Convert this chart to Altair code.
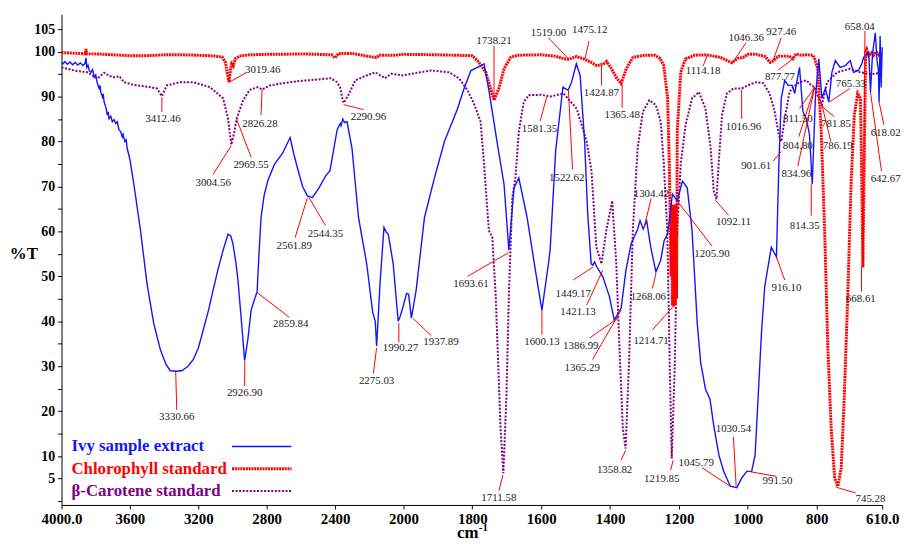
import altair as alt
import pandas as pd

# ---------------- data ----------------
ivy_wn = [4000, 3990, 3980, 3965, 3950, 3935, 3920, 3905, 3890, 3875, 3862, 3857, 3852, 3845, 3838,
          3828, 3818, 3809, 3800, 3790, 3780, 3775, 3770, 3761, 3756, 3751, 3740, 3732, 3727, 3722, 3712,
          3703, 3693, 3683, 3674, 3664, 3654, 3645, 3640, 3630, 3622, 3616,
          3600, 3577, 3538, 3500, 3461, 3422, 3390, 3364, 3330, 3297, 3260, 3229, 3200, 3171,
          3140, 3113, 3085, 3055, 3026, 3010, 2997, 2980, 2968, 2950, 2929, 2910, 2891, 2870, 2856, 2845,
          2833, 2815, 2794, 2755, 2707, 2663, 2640, 2620, 2590, 2562, 2533, 2494, 2456, 2430, 2417, 2388,
          2370, 2365, 2355, 2345, 2330, 2301, 2263, 2215, 2180, 2165, 2157, 2137, 2114, 2100, 2089, 2060,
          2031, 2020, 2002, 1991, 1985, 1977, 1963, 1939, 1910, 1881, 1843, 1824, 1804, 1785, 1766, 1751,
          1727, 1708, 1694, 1679, 1665, 1641, 1617, 1598, 1579, 1574, 1558, 1537, 1522, 1512, 1498, 1487,
          1474, 1465, 1455, 1450, 1445, 1440, 1421, 1402, 1388, 1368, 1354, 1339, 1320, 1313, 1304, 1294,
          1282, 1267, 1253, 1243, 1233, 1219, 1205, 1190, 1176, 1162, 1147, 1137, 1123, 1110, 1099, 1084,
          1070, 1051, 1032, 1018, 1003, 989, 979, 970, 960, 951, 932, 917, 910, 903, 893, 883, 871, 864,
          850, 840, 830, 821, 813, 804, 794, 785, 775, 765, 756, 746, 732, 717, 703, 693, 679, 669, 664,
          649, 644, 638, 630, 625, 621, 619, 616, 613, 610]
ivy_t = [97.6, 97.3, 97.8, 97.2, 97.7, 97.1, 97.6, 97.0, 97.5, 96.9, 97.4, 98.6, 96.5, 97.0, 95.8,
         95.4, 96.0, 94.3, 94.8, 92.9, 91.8, 92.5, 91.0, 89.9, 90.6, 88.8, 87.5, 85.9, 86.6, 85.1, 85.6,
         84.4, 84.9, 84.0, 84.4, 82.6, 82.2, 81.0, 81.6, 80.0, 80.4, 78.5,
         76.0, 70.5, 60.2, 48.4, 39.6, 33.7, 30.5, 29.0, 28.9, 29.0, 30.0, 31.5, 34.0, 38.1,
         42.5, 47.0, 51.5, 55.8, 59.4, 59.0, 57.2, 53.0, 49.2, 41.0, 31.3, 36.0, 42.5, 45.0, 46.6, 55.0,
         63.1, 68.0, 71.2, 74.9, 77.4, 80.9, 77.0, 74.1, 70.0, 67.9, 67.5, 69.7, 72.3, 73.5, 76.3, 82.6,
         84.0, 83.5, 85.0, 84.2, 84.4, 78.5, 63.1, 52.8, 42.0, 40.0, 34.5, 48.4, 60.9, 59.8, 59.4, 52.8,
         40.0, 41.0, 43.3, 46.2, 46.0, 40.7, 47.0, 63.1, 71.9, 80.0, 87.3, 91.8, 95.8, 96.5, 97.3, 91.0,
         79.3, 70.5, 55.8, 69.7, 71.9, 63.1, 51.4, 42.5, 52.8, 56.0, 78.0, 92.1, 91.4, 93.2, 97.3, 94.7,
         80.0, 63.9, 52.8, 52.5, 53.2, 52.3, 49.9, 45.5, 40.3, 42.9, 51.4, 57.2, 60.5, 62.4, 60.5, 62.4,
         56.5, 51.0, 53.6, 58.0, 59.4, 68.3, 66.8, 71.2, 69.7, 60.2, 39.6, 30.8, 24.9, 22.7, 16.8, 10.2,
         6.6, 3.3, 3.0, 5.1, 6.6, 6.6, 10.2, 23.4, 38.1, 47.7, 56.5, 54.3, 74.9, 89.6, 93.6, 92.5, 92.5, 90.7,
         96.5, 86.6, 85.1, 81.5, 70.5, 89.6, 98.4, 89.6, 91.8, 88.8, 95.4, 98.0, 96.5, 96.9, 98.0, 95.4, 95.8, 97.3, 98.7,
         99.8, 91.0, 99.5, 104.2, 98.0, 96.0, 88.8, 103.5, 92.0, 101.0]

chl_wn = [4000, 3900, 3860, 3857, 3854, 3800, 3700, 3600, 3500, 3400, 3300, 3200, 3100, 3060, 3040, 3030,
          3020, 3012, 3005, 2995, 2985, 2960, 2900, 2800, 2700, 2600, 2500, 2420, 2400, 2380, 2300, 2200,
          2160, 2140, 2050, 2000, 1900, 1800, 1785, 1761, 1747, 1737, 1723, 1708, 1689, 1670, 1600, 1560,
          1533, 1520, 1498, 1477, 1460, 1439, 1420, 1410, 1396, 1380, 1368, 1353, 1334, 1300, 1270, 1255,
          1244, 1233, 1228, 1223, 1221, 1219, 1217, 1215, 1213, 1211, 1209, 1207, 1205, 1195, 1181, 1155,
          1120, 1079, 1060, 1046, 1030, 1014, 1000, 975, 950, 935, 927, 911, 880, 869, 860, 845, 830, 811,
          806, 797, 787, 777, 768, 758, 748, 739, 729, 720, 710, 700, 691, 681, 673, 670, 666, 663, 658,
          655, 649, 640, 635, 628, 620, 615, 610]
chl_t = [99.8, 99.6, 99.5, 100.6, 99.5, 99.5, 99.3, 99.1, 99.1, 99.3, 99.3, 99.2, 99.0, 98.8, 97.5, 95.0,
         93.2, 96.0, 97.3, 96.8, 98.4, 99.0, 99.3, 99.4, 99.4, 99.5, 99.4, 99.3, 98.6, 99.6, 99.6, 98.9,
         98.7, 99.2, 99.2, 99.4, 99.3, 99.1, 98.0, 95.4, 91.8, 89.2, 91.8, 96.2, 98.7, 99.2, 99.3, 99.0,
         98.4, 98.3, 98.9, 98.4, 97.8, 96.9, 97.2, 97.8, 96.2, 94.0, 92.9, 96.2, 98.7, 99.2, 99.2, 98.5,
         96.9, 89.6, 74.9, 50.0, 66.0, 43.5, 66.0, 43.3, 66.0, 44.0, 66.0, 45.0, 82.2, 95.4, 98.4, 99.2,
         99.3, 98.7, 98.0, 97.5, 98.5, 98.7, 99.4, 99.4, 98.9, 97.6, 97.9, 99.0, 99.0, 98.4, 99.5, 99.2, 99.3, 99.2,
         98.4, 96.2, 82.2, 60.2, 34.5, 16.1, 5.1, 3.3, 7.3, 23.4, 45.5, 71.2, 85.9, 90.7, 89.6, 75.0, 52.0, 70.0, 100.0,
         100.5, 99.1, 99.8, 99.2, 100.0, 99.3, 99.8, 99.5]

car_wn = [4000, 3925, 3848, 3790, 3751, 3720, 3693, 3660, 3635, 3577, 3480, 3442, 3413, 3384, 3306, 3229,
          3132, 3055, 3026, 3007, 2990, 2976, 2940, 2900, 2852, 2827, 2780, 2717, 2600, 2500, 2427, 2388,
          2370, 2360, 2350, 2340, 2321, 2282, 2230, 2166, 2108, 2070, 2006, 1960, 1919, 1867, 1838, 1814,
          1795, 1776, 1766, 1752, 1742, 1732, 1718, 1710, 1701, 1694, 1684, 1675, 1665, 1651, 1636, 1600,
          1574, 1535, 1497, 1468, 1454, 1440, 1425, 1411, 1394, 1382, 1373, 1363, 1355, 1345, 1334, 1320,
          1305, 1286, 1267, 1253, 1244, 1234, 1227, 1221, 1212, 1205, 1195, 1181, 1162, 1142, 1123, 1108,
          1099, 1091, 1085, 1075, 1061, 1042, 1018, 1000, 976, 955, 937, 922, 910, 903, 893, 879, 869, 850,
          830, 816, 806, 794, 785, 770, 741, 703, 674, 640, 610]
car_t = [96.5, 95.8, 95.4, 94.0, 95.3, 94.6, 94.3, 94.5, 93.2, 92.6, 92.1, 91.8, 90.1, 92.5, 93.2, 93.2,
         92.1, 89.6, 85.1, 79.3, 82.0, 85.0, 89.0, 91.5, 92.1, 91.6, 92.5, 92.9, 93.5, 93.8, 94.1, 93.2,
         92.0, 90.0, 88.6, 89.2, 90.4, 93.6, 94.5, 95.4, 94.1, 95.1, 94.7, 95.3, 95.8, 95.4, 94.0, 91.4,
         88.4, 84.4, 74.9, 60.2, 58.7, 45.5, 16.1, 6.2, 23.4, 45.5, 67.5, 71.9, 82.2, 88.8, 90.3, 90.4,
         90.0, 90.7, 87.3, 80.0, 73.4, 56.5, 52.8, 60.2, 66.8, 52.8, 34.5, 16.1, 11.7, 30.8, 60.2, 78.5,
         86.6, 89.2, 88.1, 84.4, 74.9, 60.2, 30.8, 9.5, 30.8, 60.2, 74.9, 83.7, 89.6, 91.0, 87.3, 78.5,
         69.0, 67.2, 74.9, 85.9, 90.7, 91.8, 91.8, 92.5, 93.2, 93.0, 90.7, 86.6, 81.5, 80.0, 85.1, 91.0, 92.1, 93.2,
         93.6, 92.5, 92.1, 89.6, 88.1, 93.2, 95.4, 96.2, 95.4, 95.0, 95.3]

ann_text = ["3019.46", "3412.46", "3004.56", "2969.55", "2826.28", "2290.96", "2561.89", "2544.35",
            "2859.84", "3330.66", "2926.90", "2275.03", "1990.27", "1937.89", "1738.21", "1519.00",
            "1475.12", "1424.87", "1365.48", "1581.35", "1522.62", "1114.18", "1046.36", "927.46",
            "877.77", "1016.96", "901.61", "1092.11", "1205.90", "1304.42", "811.50", "804.80",
            "834.96", "814.35", "765.33", "781.85", "786.19", "618.02", "642.67", "658.04",
            "1693.61", "1449.17", "1421.13", "1600.13", "1386.99", "1365.29", "1268.06", "1214.71",
            "1358.82", "1219.85", "1711.58", "1045.79", "1030.54", "991.50", "745.28", "668.61", "916.10"]
ann_x = [2823, 3407, 3113, 2891, 2839, 2205, 2639, 2456, 2659, 3326, 2929, 2157, 2017, 1891, 1737, 1579,
         1459, 1425, 1365, 1605, 1526, 1130, 1005, 903, 907, 1013, 976, 1042, 1104, 1280, 855, 855,
         859, 835, 701, 744, 739, 600, 600, 675, 1804, 1507, 1493, 1598, 1485, 1481, 1289, 1281,
         1387, 1250, 1723, 1150, 1042, 914, 644, 672, 888]
ann_y = [95.8, 85.1, 70.8, 74.7, 83.8, 85.4, 56.7, 59.4, 39.4, 18.7, 24.0, 26.7, 34.0, 35.3, 102.4, 104.1,
         104.8, 90.7, 85.9, 82.8, 71.9, 95.6, 103.1, 104.4, 94.3, 83.3, 74.5, 62.2, 54.9, 68.4, 85.1, 79.1,
         72.7, 61.1, 92.9, 84.0, 79.1, 81.8, 71.6, 105.5, 48.4, 46.1, 42.0, 35.4, 34.5, 29.5, 45.3, 35.7,
         6.9, 4.9, 0.7, 8.5, 16.0, 4.4, 0.5, 44.9, 47.3]
lead_x1 = [2920, 3413, 3113, 2891, 2833, 2234, 2634, 2456, 2668, 3326, 2929, 2176, 2027, 1919, 1737, 1579,
           1461, 1425, 1365, 1603, 1509, 1130, 1005, 903, 912, 1018, 927, 1056, 1104, 1281, 850, 852,
           855, 816, 704, 749, 759, 605, 612, 660, 1814, 1507, 1468, 1598, 1459, 1451, 1277, 1277,
           1368, 1224, 1723, 1133, 1042, 917, 687, 670, 893]
lead_y1 = [95.3, 86.6, 72.7, 76.5, 85.9, 87.1, 58.6, 61.3, 40.9, 20.3, 25.6, 28.4, 35.3, 36.8, 101.3, 103.1,
           102.4, 92.5, 87.5, 84.6, 73.8, 96.8, 102.0, 103.1, 95.9, 85.0, 75.6, 63.6, 56.7, 67.3, 87.3, 81.1,
           74.5, 63.5, 91.8, 85.5, 80.0, 83.7, 73.4, 104.6, 50.0, 49.2, 43.6, 37.0, 36.3, 31.5, 47.3, 38.1,
           9.1, 6.9, 2.3, 7.4, 14.3, 5.5, 1.8, 46.6, 49.2]
lead_x2 = [3020, 3413, 3007, 2976, 2827, 2350, 2562, 2552, 2856, 3332, 2928, 2157, 2027, 1972, 1737, 1521,
           1473, 1425, 1365, 1584, 1521, 1118, 1044, 927, 869, 1018, 903, 1094, 1205, 1301, 806, 806,
           806, 816, 763, 783, 787, 619, 644, 665, 1694, 1449, 1421, 1598, 1377, 1368, 1267, 1217,
           1355, 1217, 1711, 1051, 1034, 998, 744, 670, 917]
lead_y2 = [93.2, 89.9, 79.1, 85.0, 91.6, 88.2, 67.5, 67.5, 46.4, 28.7, 31.2, 34.1, 39.6, 40.6, 89.4, 98.4,
           98.4, 96.9, 92.6, 89.9, 91.4, 99.2, 97.6, 98.0, 98.4, 91.6, 77.8, 66.9, 66.8, 60.9, 92.1, 92.1,
           92.1, 70.5, 88.8, 87.7, 88.8, 88.8, 91.0, 52.1, 55.3, 52.1, 51.4, 42.5, 40.7, 42.5, 50.6, 43.3,
           11.3, 9.1, 5.8, 3.3, 3.3, 6.6, 3.1, 52.1, 54.3]

x_ticks = [4000, 3600, 3200, 2800, 2400, 2000, 1800, 1600, 1400, 1200, 1000, 800, 610]
y_ticks = list(range(0, 110, 5))

SERIF = "Liberation Serif"
BLUE = "#1414ff"
RED = "#ff0000"
PURPLE = "#800080"

# ---------------- frames ----------------
ivy = pd.DataFrame({"wn": ivy_wn, "t": ivy_t, "i": range(len(ivy_wn))})
chl = pd.DataFrame({"wn": chl_wn, "t": chl_t, "i": range(len(chl_wn))})
car = pd.DataFrame({"wn": car_wn, "t": car_t, "i": range(len(car_wn))})
ann = pd.DataFrame({"label": ann_text, "x": ann_x, "y": ann_y})
leads = pd.DataFrame({"x1": lead_x1, "y1": lead_y1, "x2": lead_x2, "y2": lead_y2})
one = pd.DataFrame({"k": [0]})

xs = alt.Scale(domain=[4000, 2000, 610], range=[0, 345, 828], nice=False, zero=False)
ys = alt.Scale(domain=[-0.86, 108.3], nice=False, zero=False)

x_axis = alt.Axis(values=x_ticks, title=None, grid=False, tickSize=4, labelPadding=3,
                  labelFont=SERIF, labelFontSize=15, labelFontWeight="bold", labelColor="black",
                  labelExpr="datum.value == 4000 || datum.value == 610 ? format(datum.value, '.1f') : format(datum.value, 'd')",
                  domainColor="black", tickColor="black", labelFlush=False, labelOverlap=False)
y_axis = alt.Axis(values=y_ticks, title=None, grid=False, tickSize=4, labelPadding=3,
                  labelFont=SERIF, labelFontSize=14, labelFontWeight="bold", labelColor="black",
                  labelExpr="(datum.value % 10 == 0 && datum.value > 0) || datum.value == 5 || datum.value == 105 ? format(datum.value, 'd') : ''",
                  domainColor="black", tickColor="black", labelOverlap=False, labelFlush=False)


def X(field):
    return alt.X(field, scale=xs, axis=x_axis)


def Y(field):
    return alt.Y(field, scale=ys, axis=y_axis)


def enc_line(df, **mk):
    return alt.Chart(df).mark_line(**mk).encode(x=X("wn:Q"), y=Y("t:Q"), order="i:Q")


car_line = enc_line(car, color=PURPLE, strokeWidth=2, strokeDash=[2, 1.6])
chl_line = enc_line(chl, color=RED, strokeWidth=3, strokeDash=[2, 0.8])
ivy_line = enc_line(ivy, color=BLUE, strokeWidth=1.4)

leaders = alt.Chart(leads).mark_rule(color=RED, strokeWidth=1).encode(
    x=X("x1:Q"), y=Y("y1:Q"), x2="x2:Q", y2="y2:Q")

labels = alt.Chart(ann).mark_text(font=SERIF, fontSize=11, color="#222222",
                                  align="center", baseline="middle").encode(
    x=X("x:Q"), y=Y("y:Q"), text="label:N")


def legend_entry(text, color, ty, dash, width):
    t = alt.Chart(one).mark_text(text=text, font=SERIF, fontSize=17, fontWeight="bold",
                                 color=color, align="left", baseline="middle").encode(
        x=alt.value(10), y=alt.value(ty))
    kw = dict(color=color, strokeWidth=width)
    if dash:
        kw["strokeDash"] = dash
    r = alt.Chart(one).mark_rule(**kw).encode(
        x=alt.value(172), x2=alt.value(232), y=alt.value(ty))
    return t + r


leg1 = legend_entry("Ivy sample extract", BLUE, 436, None, 1.6)
leg2 = legend_entry("Chlorophyll standard", RED, 458.5, [2, 0.8], 3)
leg3 = legend_entry("β-Carotene standard", PURPLE, 481, [2, 1.6], 2)

ytitle = alt.Chart(one).mark_text(text="%T", font=SERIF, fontSize=17, fontWeight="bold",
                                  color="black", align="center", baseline="middle").encode(
    x=alt.value(-38), y=alt.value(242))
xtitle = alt.Chart(one).mark_text(text="cm", font=SERIF, fontSize=17, fontWeight="bold",
                                  color="black", align="left", baseline="alphabetic").encode(
    x=alt.value(399), y=alt.value(528.5))
xsup = alt.Chart(one).mark_text(text="-1", font=SERIF, fontSize=11, fontWeight="bold",
                                color="black", align="left", baseline="alphabetic").encode(
    x=alt.value(421), y=alt.value(521.5))

chart = alt.layer(
    car_line, chl_line, ivy_line, leaders, labels, leg1, leg2, leg3, ytitle, xtitle, xsup
).properties(
    width=828, height=495,
    padding={"left": 54, "top": 4, "right": 20, "bottom": 36},
    autosize=alt.AutoSizeParams(type="none"),
).configure_view(stroke=None).configure_axis(labelOverlap=False, grid=False)

chart.save("out.html", embed_options={"renderer": "svg", "actions": False})
